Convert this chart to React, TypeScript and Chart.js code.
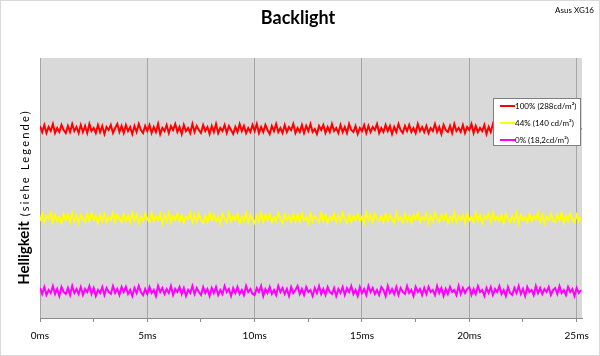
import React, { useEffect, useRef } from "react";
import { Chart, registerables } from "chart.js";

Chart.register(...registerables);

const TITLE = "Backlight";
const SUBTITLE = "Asus XG16";
const Y_LABEL_MAIN = "Helligkeit";
const Y_LABEL_SUB = " (siehe Legende)";
const SERIES_NAMES = ["100% (288cd/m²)", "44% (140 cd/m²)", "0% (18,2cd/m²)"];
const SERIES_COLORS = ["#ff0000", "#ffff00", "#ff00ff"];
const TICK_VALUES = [0, 2.5, 5, 7.5, 10, 12.5, 15, 17.5, 20, 22.5, 25];
const SAMPLE_MS = 0.1;
const X_MAX = 25.25;

const RED = [
  192,186,193,185,191,187,194,185,190,186,193,188,185,192,186,194,187,191,185,193,
  186,192,185,194,187,190,185,193,186,192,184,191,188,193,185,190,194,186,192,185,
  193,187,191,184,192,186,194,188,185,192,187,193,185,191,186,194,184,190,187,193,
  185,192,188,194,186,191,184,193,187,190,185,194,186,192,188,185,193,187,191,184,
  192,186,194,185,190,187,193,185,192,188,184,191,186,194,187,192,185,190,186,193,
  187,194,185,191,186,193,188,184,192,187,194,186,190,185,193,186,191,188,194,185,
  190,186,193,185,192,187,194,186,189,184,192,188,193,185,191,186,194,187,190,185,
  193,186,191,185,194,188,186,192,184,190,187,193,185,192,186,191,188,194,185,190,
  186,193,187,192,184,191,186,194,188,185,192,187,193,186,190,185,194,187,191,186,
  192,185,190,187,194,186,191,184,193,188,186,192,185,194,187,190,186,193,185,191,
  188,194,185,192,186,190,187,193,184,191,186,194,188,185,192,187,193,185,190,186,
  194,187,191,185,193,186,192,188,184,190,186,194,187,192,185,191,186,193,188,185,
  192,186,193,187,190,185,194,186,191,188,193,185,190,
];

const YELLOW = [
  97,104,96,102,99,105,96,103,97,101,95,104,98,103,96,105,97,102,95,103,
  99,96,104,97,105,98,102,95,103,97,104,96,101,98,105,96,103,99,96,104,
  97,102,96,105,98,103,95,101,97,104,99,96,105,97,102,98,104,95,103,97,
  105,96,102,98,104,97,103,95,101,99,105,96,103,97,104,98,95,102,96,105,
  98,103,97,101,95,104,99,96,105,97,102,98,104,95,101,97,105,96,103,99,
  95,102,97,105,96,103,98,104,96,101,97,105,99,95,103,98,102,96,104,97,
  103,96,105,98,101,95,104,97,102,99,96,105,97,103,95,101,98,104,96,102,
  97,105,99,95,103,96,102,98,104,97,101,95,105,98,103,96,104,99,97,102,
  96,104,97,103,99,95,105,98,101,96,104,97,102,95,103,99,105,96,101,98,
  104,95,102,97,105,99,96,103,98,104,95,101,97,105,96,102,98,103,95,104,
  98,101,96,105,97,103,95,102,99,104,96,105,98,101,97,103,95,104,99,96,
  102,97,105,95,103,98,101,96,104,97,102,99,105,96,103,95,101,98,104,97,
  96,103,98,105,95,102,97,104,99,96,103,97,101,
];

const MAGENTA = [
  30,24,31,23,28,25,32,24,29,22,31,26,24,30,23,32,25,29,24,31,
  23,29,26,32,24,30,22,28,25,31,23,30,26,24,32,25,29,23,31,26,
  31,24,28,22,30,25,32,26,23,29,24,31,25,28,22,32,26,30,24,29,
  25,32,23,29,26,31,24,30,22,28,25,32,24,30,26,23,31,25,29,22,
  30,25,31,23,28,24,32,26,29,22,30,25,31,24,28,23,32,26,29,24,
  23,30,26,32,22,29,25,31,24,28,23,32,26,30,24,29,22,31,25,28,
  32,24,29,23,31,26,28,22,30,25,32,24,29,23,31,26,24,30,22,29,
  25,31,23,30,26,32,24,28,22,31,25,29,23,32,26,30,24,28,23,31,
  28,22,32,25,29,24,31,23,30,26,24,32,25,28,22,31,26,29,23,30,
  24,31,26,28,23,32,25,30,22,29,24,31,26,28,23,32,24,30,25,29,
  31,23,29,24,32,26,28,22,30,25,31,23,29,26,32,24,28,22,31,25,
  23,30,25,32,24,29,22,31,26,28,23,32,25,30,24,29,26,31,23,28,
  30,24,32,25,28,23,31,26,29,22,30,25,28,
];

const SERIES_VALUES = [RED, YELLOW, MAGENTA];

const FONT = "Lato, 'Open Sans', sans-serif";

const decorPlugin = {
  id: "decor",
  beforeDraw(chart: any) {
    const { ctx, chartArea } = chart;
    ctx.save();
    ctx.fillStyle = "#ffffff";
    ctx.fillRect(0, 0, chart.width, chart.height);
    ctx.fillStyle = "#d9d9d9";
    ctx.fillRect(chartArea.left, chartArea.top, chartArea.right - chartArea.left, chartArea.bottom - chartArea.top);
    ctx.restore();
  },
  afterDraw(chart: any) {
    const { ctx, chartArea } = chart;
    ctx.save();
    ctx.strokeStyle = "#d9d9d9";
    ctx.lineWidth = 1;
    ctx.strokeRect(0.5, 0.5, chart.width - 1, chart.height - 1);

    ctx.fillStyle = "#000";
    ctx.textAlign = "center";
    ctx.textBaseline = "alphabetic";
    ctx.font = `bold 18px ${FONT}`;
    ctx.fillText(TITLE, 298, 24);

    ctx.font = `8px ${FONT}`;
    ctx.textAlign = "right";
    ctx.textBaseline = "middle";
    ctx.fillText(SUBTITLE, 594, 10);

    ctx.save();
    ctx.translate(23, 197);
    ctx.rotate(-Math.PI / 2);
    ctx.textBaseline = "alphabetic";
    ctx.textAlign = "left";
    ctx.font = `bold 15px ${FONT}`;
    (ctx as any).letterSpacing = "0px";
    const w1 = ctx.measureText(Y_LABEL_MAIN).width;
    ctx.font = `11px ${FONT}`;
    (ctx as any).letterSpacing = "2.2px";
    const w2 = ctx.measureText(Y_LABEL_SUB).width;
    const start = -(w1 + w2) / 2;
    ctx.font = `bold 15px ${FONT}`;
    (ctx as any).letterSpacing = "0px";
    ctx.fillText(Y_LABEL_MAIN, start, 6);
    ctx.font = `11px ${FONT}`;
    (ctx as any).letterSpacing = "2.2px";
    ctx.fillText(Y_LABEL_SUB, start + w1, 6);
    ctx.restore();

    const lx = chartArea.right - 89;
    const ly = chartArea.top + 40;
    const lw = 88;
    const lh = 48;
    ctx.fillStyle = "#ffffff";
    ctx.fillRect(lx, ly, lw, lh);
    ctx.strokeStyle = "#7f7f7f";
    ctx.lineWidth = 1;
    ctx.strokeRect(lx + 0.5, ly + 0.5, lw - 1, lh - 1);
    ctx.font = `8px ${FONT}`;
    ctx.textAlign = "left";
    ctx.textBaseline = "middle";
    SERIES_NAMES.forEach((name, i) => {
      const y = ly + 8 + i * 17;
      ctx.strokeStyle = SERIES_COLORS[i];
      ctx.lineWidth = 2;
      ctx.beginPath();
      ctx.moveTo(lx + 7, y);
      ctx.lineTo(lx + 22, y);
      ctx.stroke();
      ctx.fillStyle = "#000";
      ctx.fillText(name, lx + 22, y);
    });
    ctx.restore();
  },
};

export default function App() {
  const ref = useRef<HTMLCanvasElement | null>(null);

  useEffect(() => {
    if (!ref.current) return;
    const chart = new Chart(ref.current, {
      type: "line",
      data: {
        datasets: SERIES_VALUES.map((vals, i) => ({
          label: SERIES_NAMES[i],
          data: vals.map((y, k) => ({ x: k * SAMPLE_MS, y })),
          borderColor: SERIES_COLORS[i],
          backgroundColor: SERIES_COLORS[i],
          borderWidth: 2,
          pointRadius: 0,
          tension: 0,
        })),
      },
      options: {
        animation: false,
        responsive: false,
        devicePixelRatio: 1,
        layout: { padding: { left: 40, top: 58, right: 18, bottom: 0 } },
        plugins: {
          legend: { display: false },
          title: { display: false },
          tooltip: { enabled: false },
        },
        scales: {
          x: {
            type: "linear",
            min: 0,
            max: X_MAX,
            afterBuildTicks: (scale: any) => {
              scale.ticks = TICK_VALUES.map((v) => ({ value: v }));
            },
            afterFit: (scale: any) => {
              scale.height = 38;
            },
            grid: {
              color: (c: any) => (c.tick && c.tick.value % 5 === 0 ? "#a6a6a6" : "rgba(0,0,0,0)"),
              tickColor: "#8c8c8c",
              tickLength: 4,
              lineWidth: 1,
            },
            border: { display: true, color: "#8c8c8c", width: 1 },
            ticks: {
              autoSkip: false,
              maxRotation: 0,
              padding: 8,
              color: "#000",
              font: { family: FONT, size: 10 },
              callback: (v: any) => (Number(v) % 5 === 0 ? `${v}ms` : ""),
            },
          },
          y: {
            display: false,
            min: 0,
            max: 260,
          },
        },
      },
      plugins: [decorPlugin],
    });
    return () => chart.destroy();
  }, []);

  return (
    <div style={{ position: "absolute", left: 0, top: 0, width: 600, height: 356 }}>
      <canvas ref={ref} width={600} height={356} style={{ display: "block", width: 600, height: 356 }} />
    </div>
  );
}
